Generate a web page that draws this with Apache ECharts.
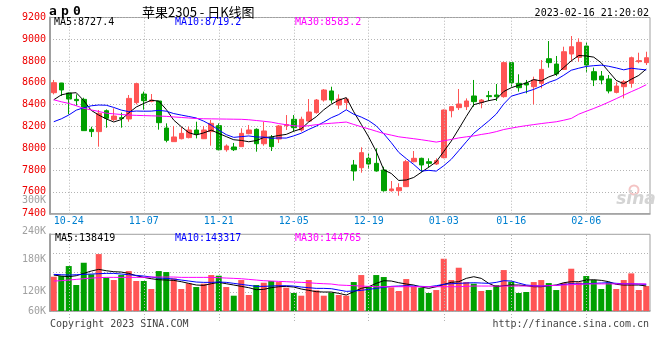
<!DOCTYPE html>
<html><head><meta charset="utf-8">
<script src="https://cdn.jsdelivr.net/npm/echarts@6/dist/echarts.min.js"></script>
<style>html,body{margin:0;padding:0;background:#fff}#c{width:660px;height:360px}</style>
</head><body><div id="c"></div>
<script>
const dates = ['10-20','10-21','10-24','10-25','10-26','10-27','10-28','10-31','11-01','11-02','11-03','11-04','11-07','11-08','11-09','11-10','11-11','11-14','11-15','11-16','11-17','11-18','11-21','11-22','11-23','11-24','11-25','11-28','11-29','11-30','12-01','12-02','12-05','12-06','12-07','12-08','12-09','12-12','12-13','12-14','12-15','12-16','12-19','12-20','12-21','12-22','12-23','12-26','12-27','12-28','12-29','12-30','01-03','01-04','01-05','01-06','01-09','01-10','01-11','01-12','01-13','01-16','01-17','01-18','01-19','01-20','01-30','01-31','02-01','02-02','02-03','02-06','02-07','02-08','02-09','02-10','02-13','02-14','02-15','02-16'];
const dateTicks = ['10-24','11-07','11-21','12-05','12-19','01-03','01-16','02-06'];

const openP  = [8510,8599,8507,8449,8449,8174,8153,8345,8263,8281,8269,8419,8498,8431,8434,8186,8061,8088,8098,8168,8088,8153,8208,7987,8012,8015,8134,8174,8042,8101,8085,8208,8266,8168,8250,8327,8443,8526,8397,8419,7847,7822,7908,7862,7801,7611,7611,7648,7877,7908,7877,7856,7914,8345,8373,8382,8480,8419,8483,8489,8474,8786,8596,8599,8565,8596,8822,8773,8724,8865,8834,8938,8703,8663,8636,8513,8565,8596,8795,8786];
const closeP = [8602,8535,8452,8437,8162,8153,8321,8275,8296,8272,8458,8593,8437,8443,8235,8073,8104,8137,8168,8131,8168,8229,7987,8021,7987,8137,8168,8042,8159,8015,8205,8217,8189,8266,8333,8443,8535,8443,8452,8452,7792,7960,7856,7792,7611,7627,7639,7877,7908,7847,7862,7887,8351,8382,8406,8434,8428,8443,8474,8474,8786,8602,8556,8581,8627,8724,8786,8682,8886,8932,8972,8764,8627,8627,8526,8571,8611,8831,8804,8831];
const lowP   = [8495,8480,8312,8391,8160,8104,8015,8189,8250,8189,8244,8403,8354,8422,8171,8055,8061,8082,8091,8091,8085,8024,7981,7969,7975,8012,8128,7969,8024,7975,8049,8168,8153,8153,8244,8318,8428,8413,8361,8357,7703,7776,7810,7786,7602,7602,7565,7645,7871,7780,7822,7847,7908,8284,8351,8351,8382,8367,8434,8434,8464,8565,8520,8504,8403,8550,8740,8663,8718,8795,8795,8694,8571,8587,8504,8504,8458,8556,8780,8764];
const highP  = [8627,8600,8510,8495,8464,8198,8351,8357,8367,8327,8489,8602,8520,8498,8434,8229,8205,8195,8198,8244,8205,8260,8229,8036,8049,8183,8214,8183,8244,8122,8214,8305,8305,8290,8452,8452,8544,8565,8495,8464,7893,8009,7954,8000,7831,7700,7679,7893,7975,7914,7908,7908,8357,8385,8544,8458,8627,8452,8526,8590,8795,8790,8679,8627,8657,8810,8984,8847,8932,9030,9009,8972,8740,8709,8672,8611,8627,8841,8877,8886];

const ma5  = [8445,8490,8505,8510,8437.6,8347.8,8305,8269.6,8241.4,8263.4,8324.4,8378.8,8411.2,8440.6,8433.2,8356.2,8258.4,8198.4,8143.4,8122.6,8141.6,8166.6,8136.6,8107.2,8078.4,8072.2,8060,8071,8098.6,8104.2,8117.8,8127.6,8157,8178.4,8242,8289.6,8353.2,8404,8441.2,8465,8334.8,8219.8,8102.4,7970.4,7802.2,7769.2,7705,7709.2,7732.4,7779.6,7826.6,7876.2,7971,8065.8,8177.6,8292,8400.2,8418.6,8437,8450.6,8521,8555.8,8578.4,8599.8,8630.4,8618,8654.8,8680,8741,8802,8851.6,8847.2,8836.2,8784.4,8703.2,8623,8592.4,8633.2,8668.6,8727.4];
const ma10 = [8244,8270,8305,8350,8372,8390,8397,8395,8375,8350.5,8336.1,8341.9,8340.4,8341,8348.3,8340.3,8318.6,8304.8,8292,8277.9,8248.9,8212.5,8167.5,8125.3,8100.5,8106.9,8113.3,8103.8,8102.9,8091.3,8095,8093.8,8114,8138.5,8173.1,8203.7,8240.4,8280.5,8309.8,8353.5,8312.2,8286.5,8253.2,8205.8,8133.6,8052,7962.4,7905.8,7851.4,7790.9,7797.9,7790.6,7840.1,7899.1,7978.6,8059.3,8138.2,8194.8,8251.4,8314.1,8406.5,8478,8498.5,8518.4,8540.5,8569.5,8605.3,8629.2,8670.4,8716.2,8734.8,8751,8758.1,8762.7,8752.6,8737.3,8719.8,8734.7,8726.5,8719.2];
const ma30 = [8445,8427,8412,8390,8367,8352,8338,8322,8316,8310,8305,8302,8300,8298,8296,8293,8288,8283,8278,8273,8271,8270,8269,8268,8267,8266,8262,8255,8248,8239.9,8226.7,8216.1,8207.3,8201.6,8207.3,8217,8224.1,8229.7,8234.9,8240.9,8218.7,8197.6,8178.2,8156.5,8135.7,8120.9,8105.4,8096.7,8088,8078.6,8068.4,8057,8069.1,8081.1,8095.1,8105,8113.7,8127,8137.5,8152.8,8172.2,8185,8197.3,8207.8,8217.6,8226.9,8235.3,8243.3,8257.7,8273.7,8313.1,8339.9,8365.6,8393.4,8423.9,8455.4,8487.8,8519.6,8549.4,8583.2];

const volume = [167300,169400,200600,141300,211000,174600,238100,164200,156900,172500,185000,153800,153800,128800,185000,181900,162100,128800,146500,135000,145400,172500,170400,135000,107900,156900,110000,141300,148500,153800,150600,132900,116300,107900,156900,124600,107900,117300,110000,107900,150600,172500,136000,172500,166300,134000,122500,160000,136000,132900,116300,125600,223500,156900,195400,150600,145400,122500,125600,141300,188100,151700,116300,119400,150600,156900,147500,125600,147500,192300,149600,169400,156900,128800,149600,128800,156900,177700,125600,138100];
const volMa5 = [172500,169400,167300,170400,177700,185000,190200,186000,183000,181900,177700,170400,165200,161000,157900,156900,155800,151700,146500,141300,140200,145400,149600,145400,141300,137100,132900,126700,127700,132900,136000,137100,135000,128800,124600,120400,119400,119400,115200,110000,120400,130800,136000,146500,154800,153800,148500,144400,141300,135000,130800,136000,143300,149600,151700,162100,167300,162100,146500,136000,139200,141300,141300,139200,136000,136000,139200,141300,148500,151700,151700,156900,157900,155800,151700,143300,141300,141300,141300,138419];
const volMa10 = [174600,173500,172500,173500,174600,175600,176700,177700,177700,175600,173500,171500,169400,166300,163100,162100,160000,156900,153800,150600,149600,149600,150600,149600,146500,143300,140200,137100,137100,138100,139200,139200,138100,135000,132900,130800,130800,129800,125600,121500,122500,124600,127700,130800,134000,137100,138100,139200,138100,137100,136000,139200,143300,145400,146500,147500,148500,147500,146500,149600,154800,153800,147500,141300,139200,138100,139200,140200,143300,145400,144400,145400,146500,147500,148500,146500,145400,145400,144400,143317];
const volMa30 = [153800,154800,156900,159000,161000,163100,164200,165200,165200,165200,165200,165200,165200,166300,166300,166300,166300,165200,165200,165200,165200,165200,164200,163100,162100,161000,159000,156900,154800,153800,152700,151700,150600,149600,148500,146500,145400,144400,141300,140200,139200,138100,137100,136000,136000,136000,136000,136000,136000,136000,136000,136000,136000,136000,136000,137100,138100,138100,138100,138100,138100,138100,138100,138100,138100,138100,139200,140200,141300,142300,143300,144400,144800,144800,144800,144800,144800,144800,144800,144765];

const volTickLabels = ['300K','240K','180K','120K','60K'];
const volTickLabelY = [200,231,259.5,291.5,311];

const MONO = '"DejaVu Sans Mono", monospace';
const RED = '#ff5555', GREEN = '#00a000';
const GRIDC = '#b4b4b4', BORDERC = '#a0a0a0';

const chart = echarts.init(document.getElementById('c'), null, {renderer: 'canvas'});
const candleData = dates.map((d, i) => [openP[i], closeP[i], lowP[i], highP[i]]);
const volData = volume.map((v, i) => ({value: v, itemStyle: {color: closeP[i] >= openP[i] ? RED : GREEN}}));
const nulls = dates.map(() => null);
const vLines = (xi, yi) => ({
  type: 'line', xAxisIndex: xi, yAxisIndex: yi, data: nulls, z: 1, silent: true,
  markLine: {silent: true, symbol: 'none', animation: false, label: {show: false},
    lineStyle: {color: GRIDC, type: [1, 2], width: 1},
    data: dateTicks.map(d => ({xAxis: d}))}
});
const maLine = (data, color, xi, yi) => ({
  type: 'line', data: data, xAxisIndex: xi, yAxisIndex: yi, showSymbol: false, symbol: 'none',
  lineStyle: {color: color, width: 1}, itemStyle: {color: color}, z: 5, silent: true
});
const txt = (text, x, y, color, font, align) => ({
  type: 'text', silent: true, z: 100,
  style: {text: text, x: x, y: y, fill: color, font: font, align: align || 'left', verticalAlign: 'middle',
    textAlign: align || 'left', textVerticalAlign: 'middle'}
});

const graphics = [
  txt('a', 49, 12, '#000', 'bold 13px ' + MONO),
  txt('p', 61, 12, '#000', 'bold 13px ' + MONO),
  txt('0', 73, 12, '#000', 'bold 13px ' + MONO),
  txt('苹果2305 - 日K线图', 142, 12, '#000', '13px "Noto Sans CJK SC"'),
  txt('2023-02-16 21:20:02', 649, 13, '#000', '10px ' + MONO, 'right'),
  txt('MA5:8727.4', 54, 22, '#000', '10px ' + MONO),
  txt('MA10:8719.2', 175, 22, '#0000ff', '10px ' + MONO),
  txt('MA30:8583.2', 295, 22, '#ff00ff', '10px ' + MONO),
  txt('MA5:138419', 55, 238.5, '#000', '10px ' + MONO),
  txt('MA10:143317', 175, 238.5, '#0000ff', '10px ' + MONO),
  txt('MA30:144765', 295, 238.5, '#ff00ff', '10px ' + MONO),
  txt('Copyright 2023 SINA.COM', 50, 324, '#444', '10px ' + MONO),
  txt('http://finance.sina.com.cn', 649, 324, '#444', '10px ' + MONO, 'right'),
  txt('sina', 636, 200, '#d4d4d4', 'italic bold 17px "DejaVu Sans"', 'center'),
  {type: 'circle', silent: true, z: 99, shape: {cx: 634, cy: 190, r: 4.5}, style: {fill: 'none', stroke: '#f4c4c4', lineWidth: 2}}
];
volTickLabels.forEach((t, i) => graphics.push(txt(t, 46, volTickLabelY[i], '#a0a0a0', '10px ' + MONO, 'right')));

const option = {
  animation: false,
  backgroundColor: '#ffffff',
  grid: [
    {left: 50, top: 17.5, width: 600, height: 196.2, show: true, borderColor: BORDERC, borderWidth: 1, backgroundColor: 'transparent'},
    {left: 50, top: 234.3, width: 600, height: 76.7, show: true, borderColor: BORDERC, borderWidth: 1, backgroundColor: 'transparent'},
    {left: 50, top: 311, width: 600, height: 10, show: false}
  ],
  xAxis: [
    {type: 'category', gridIndex: 0, data: dates, boundaryGap: true,
      axisLine: {show: true, lineStyle: {color: BORDERC, width: 1.5}}, axisTick: {show: false},
      axisLabel: {interval: (i, v) => dateTicks.indexOf(v) >= 0, color: '#0080d0', fontFamily: MONO, fontSize: 10, margin: 3},
      splitLine: {show: false}},
    {type: 'category', gridIndex: 1, data: dates, boundaryGap: true,
      axisLine: {show: true, lineStyle: {color: BORDERC, width: 1.5}}, axisTick: {show: false}, axisLabel: {show: false}, splitLine: {show: false}},
    {type: 'category', gridIndex: 2, data: dates, boundaryGap: true, show: false}
  ],
  yAxis: [
    {type: 'value', gridIndex: 0, min: 7400, max: 9200, interval: 200,
      axisLine: {show: true, lineStyle: {color: BORDERC, width: 2}}, axisTick: {show: false},
      axisLabel: {color: '#ee0000', fontFamily: MONO, fontSize: 10, margin: 4, padding: [0, 0, 4, 0], formatter: v => String(v)},
      splitLine: {show: true, lineStyle: {color: GRIDC, type: [1, 2], width: 1}}},
    {type: 'value', gridIndex: 1, min: 60000, max: 300000, interval: 60000,
      axisLine: {show: true, lineStyle: {color: BORDERC, width: 2}}, axisTick: {show: false}, axisLabel: {show: false},
      splitLine: {show: true, lineStyle: {color: GRIDC, type: [1, 2], width: 1}}},
    {type: 'value', gridIndex: 2, min: 0, max: 1, show: false}
  ],
  series: [
    vLines(0, 0), vLines(1, 1), vLines(2, 2),
    {type: 'candlestick', xAxisIndex: 0, yAxisIndex: 0, data: candleData, barWidth: 5, z: 3, silent: true,
      itemStyle: {color: RED, color0: GREEN, borderColor: RED, borderColor0: GREEN, borderWidth: 1}},
    maLine(ma5, '#000000', 0, 0), maLine(ma10, '#0000ff', 0, 0), maLine(ma30, '#ff00ff', 0, 0),
    {type: 'bar', xAxisIndex: 1, yAxisIndex: 1, data: volData, barWidth: 6, z: 3, silent: true},
    maLine(volMa5, '#000000', 1, 1), maLine(volMa10, '#0000ff', 1, 1), maLine(volMa30, '#ff00ff', 1, 1)
  ],
  graphic: graphics
};
chart.setOption(option);
</script></body></html>
